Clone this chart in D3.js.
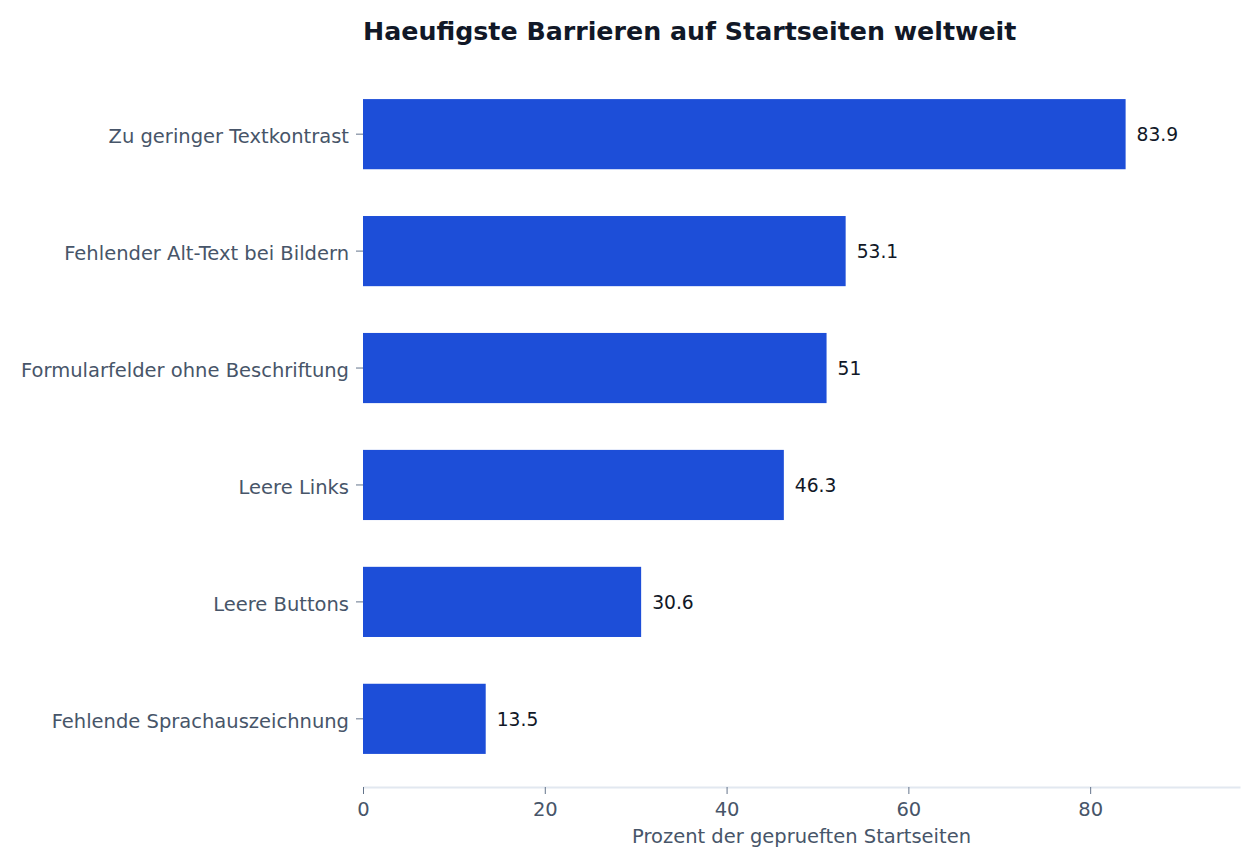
<!DOCTYPE html>
<html><head><meta charset="utf-8">
<script src="https://cdn.jsdelivr.net/npm/d3@7"></script>
<style>body{margin:0;background:#fff;} svg{display:block;font-family:"DejaVu Sans",sans-serif;}</style>
</head><body>
<svg id="c" width="1260" height="867"></svg>
<script>
const categories = ["Zu geringer Textkontrast","Fehlender Alt-Text bei Bildern","Formularfelder ohne Beschriftung","Leere Links","Leere Buttons","Fehlende Sprachauszeichnung"];
const values = [83.9, 53.1, 51, 46.3, 30.6, 13.5];
const xTicks = [0, 20, 40, 60, 80];
const title = "Haeufigste Barrieren auf Startseiten weltweit";
const xTitle = "Prozent der geprueften Startseiten";

const FS = 19.5;
const svg = d3.select("#c");
const left = 363, right = 1240, axisY = 787;
const x = d3.scaleLinear().domain([0, d3.max(values) * 1.15]).range([left, right]);
const y = d3.scaleBand().domain(categories).range([64, 789]).paddingInner(0.4).paddingOuter(0.3);

svg.append("text").attr("x", left).attr("y", 40).attr("font-size", 25.3).attr("font-weight", "bold")
  .attr("fill", "#111827").text(title);

svg.append("g").selectAll("rect").data(values).join("rect")
  .attr("x", x(0)).attr("y", (d, i) => y(categories[i]))
  .attr("width", d => x(d) - x(0)).attr("height", y.bandwidth()).attr("fill", "#1d4ed8");

svg.append("g").selectAll("text").data(values).join("text")
  .attr("x", d => x(d) + 11).attr("y", (d, i) => y(categories[i]) + y.bandwidth() / 2)
  .attr("dy", "0.37em").attr("font-size", 18.7).attr("fill", "#111827").text(d => d);

// y axis
const ya = svg.append("g").attr("transform", `translate(${left},0)`)
  .call(d3.axisLeft(y).tickSize(7).tickPadding(7));
ya.select(".domain").remove();
ya.selectAll("line").attr("stroke", "#64748b");
ya.selectAll("text").attr("font-size", FS).attr("fill", "#475569").attr("font-family", "DejaVu Sans").attr("dy", "0.46em");

// x axis
const xa = svg.append("g").attr("transform", `translate(0,${axisY})`)
  .call(d3.axisBottom(x).tickValues(xTicks).tickSize(7).tickPadding(8).tickSizeOuter(0));
xa.select(".domain").attr("stroke", "#e2e8f0").attr("stroke-width", 2);
xa.selectAll(".tick line").attr("stroke", "#64748b");
xa.selectAll("text").attr("font-size", FS).attr("fill", "#475569").attr("font-family", "DejaVu Sans");

svg.append("text").attr("x", (left + right) / 2).attr("y", 843).attr("text-anchor", "middle")
  .attr("font-size", FS).attr("fill", "#475569").text(xTitle);
</script>
</body></html>
